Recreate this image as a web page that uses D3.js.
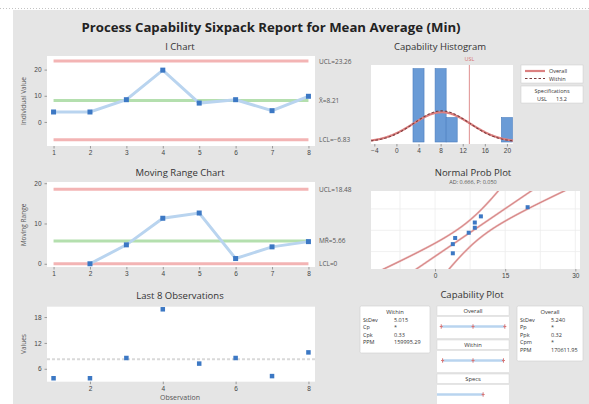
<!DOCTYPE html>
<html>
<head>
<meta charset="utf-8">
<script src="https://cdn.jsdelivr.net/npm/d3@7"></script>
<style>
  body { margin: 0; background: #fff; }
  svg { display: block; font-family: "Open Sans", "Noto Sans", sans-serif; }
  .tick text { font-size: 6.5px; fill: #444; }
  .tick line { stroke: #999; }
  .domain { stroke: none; }
</style>
</head>
<body>
<svg id="chart" width="589" height="404"></svg>
<script>
// ---- data ----
const observations = [1, 2, 3, 4, 5, 6, 7, 8];
const values = [3.8, 3.8, 8.5, 19.8, 7.2, 8.5, 4.3, 9.8];
const usl = 13.2;
const iTicks = [0, 10, 20];
const mrTicks = [0, 10, 20];
const lastTicks = [6, 12, 18];
const lastXTicks = [2, 4, 6, 8];
const histTicks = [-4, 0, 4, 8, 12, 16, 20];
const histThresholds = [-5, -3, -1, 1, 3, 5, 7, 9, 11, 13, 15, 17, 19, 21];
const probTicks = [0, 15, 30];
const probGrid = [-7.5, 0, 7.5, 15, 22.5, 30];
const probPctGrid = [0.1, 0.5, 0.9];
const adText = "AD: 0.666, P: 0.050";
const chartTitle = "Process Capability Sixpack Report for Mean Average (Min)";

// ---- statistics ----
const n = values.length;
const mean = d3.mean(values);
const movingRanges = values.slice(1).map((v, i) => Math.abs(v - values[i]));
const mrBar = d3.mean(movingRanges);
const sigmaW = mrBar / 1.128;
const sigmaO = d3.deviation(values);
const ucl = mean + 3 * sigmaW, lcl = mean - 3 * sigmaW;
const mrUcl = 3.267 * mrBar;

function erf(x) {
  const s = Math.sign(x); x = Math.abs(x);
  const t = 1 / (1 + 0.3275911 * x);
  const y = 1 - (((((1.061405429 * t - 1.453152027) * t) + 1.421413741) * t - 0.284496736) * t + 0.254829592) * t * Math.exp(-x * x);
  return s * y;
}
const Phi = z => 0.5 * (1 + erf(z / Math.SQRT2));
function probit(p) {
  let lo = -8, hi = 8;
  for (let k = 0; k < 80; k++) { const m = (lo + hi) / 2; if (Phi(m) < p) lo = m; else hi = m; }
  return (lo + hi) / 2;
}
const cpk = (usl - mean) / (3 * sigmaW);
const ppk = (usl - mean) / (3 * sigmaO);
const ppmW = (1 - Phi((usl - mean) / sigmaW)) * 1e6;
const ppmO = (1 - Phi((usl - mean) / sigmaO)) * 1e6;

// ---- styling ----
const C = {
  panel: "#e5e5e5", plot: "#ffffff", limit: "#f3b4b4", center: "#b4dfae",
  line: "#b9d4ef", point: "#3c78c4", bar: "#6a9bd6", barStroke: "#4a7cbd",
  red: "#d87474", text: "#333", sub: "#555"
};

const svg = d3.select("#chart");
svg.append("line").attr("x1", 0).attr("x2", 589).attr("y1", 8.5).attr("y2", 8.5)
  .attr("stroke", "#c4c4c4").attr("stroke-dasharray", "1,2");
svg.append("rect").attr("x", 13).attr("y", 10).attr("width", 576).attr("height", 394).attr("fill", C.panel);

svg.append("text").attr("x", 271).attr("y", 32).attr("text-anchor", "middle")
  .attr("font-size", 13.2).attr("font-weight", "bold").attr("fill", "#222").text(chartTitle);

function plotRect(x0, y0, x1, y1) {
  svg.append("rect").attr("x", x0).attr("y", y0).attr("width", x1 - x0).attr("height", y1 - y0)
    .attr("fill", C.plot);
}
function title(x, y, t, size) {
  svg.append("text").attr("x", x).attr("y", y).attr("text-anchor", "middle")
    .attr("font-size", size || 9.5).attr("fill", C.text).text(t);
}
function yTitle(x, y, t) {
  svg.append("text").attr("transform", `translate(${x},${y}) rotate(-90)`).attr("text-anchor", "middle")
    .attr("font-size", 6.5).attr("fill", C.sub).text(t);
}
function axes(xs, ys, xt, yt, y0, x0) {
  svg.append("g").attr("transform", `translate(0,${y0})`)
    .call(d3.axisBottom(xs).tickValues(xt).tickSize(2.5).tickPadding(2).tickFormat(d3.format("d")));
  if (yt) svg.append("g").attr("transform", `translate(${x0},0)`)
    .call(d3.axisLeft(ys).tickValues(yt).tickSize(2.5).tickPadding(3).tickFormat(d3.format("d")));
}
function hline(xs, ys, v, color, x0, x1) {
  svg.append("line").attr("x1", xs(x0)).attr("x2", xs(x1)).attr("y1", ys(v)).attr("y2", ys(v))
    .attr("stroke", color).attr("stroke-width", 3);
}
function sideLabel(x, y, t) {
  svg.append("text").attr("x", x).attr("y", y + 2.5).attr("font-size", 6.5).attr("fill", C.sub).text(t);
}
function squares(data, xs, ys, size) {
  svg.append("g").selectAll("rect").data(data).join("rect")
    .attr("x", d => xs(d[0]) - size / 2).attr("y", d => ys(d[1]) - size / 2)
    .attr("width", size).attr("height", size).attr("fill", C.point);
}
const f2 = d3.format(".2f"), f3 = d3.format(".3f");

// ---- I chart ----
const iX = d3.scaleLinear().domain([0.82, 8.18]).range([47, 315]);
const iY = d3.scaleLinear().domain([-9.2, 25.2]).range([146, 56]);
title(180, 50, "I Chart");
plotRect(47, 56, 315, 146);
axes(iX, iY, observations, iTicks, 146, 47);
hline(iX, iY, ucl, C.limit, 1, 8);
hline(iX, iY, lcl, C.limit, 1, 8);
hline(iX, iY, mean, C.center, 1, 8);
const iPts = observations.map((o, i) => [o, values[i]]);
svg.append("path").datum(iPts).attr("fill", "none").attr("stroke", C.line).attr("stroke-width", 3)
  .attr("d", d3.line().x(d => iX(d[0])).y(d => iY(d[1])));
squares(iPts, iX, iY, 5);
yTitle(26, 101, "Individual Value");
sideLabel(319, iY(ucl), "UCL=" + f2(ucl));
sideLabel(319, iY(mean), "X\u0304=" + f2(mean));
sideLabel(319, iY(lcl), "LCL=" + f2(lcl));

// ---- Moving range chart ----
const mrY = d3.scaleLinear().domain([-0.8, 20.3]).range([267, 182]);
title(180, 176, "Moving Range Chart");
plotRect(47, 182, 315, 267);
axes(iX, mrY, observations, mrTicks, 267, 47);
hline(iX, mrY, mrUcl, C.limit, 1, 8);
hline(iX, mrY, 0, C.limit, 1, 8);
hline(iX, mrY, mrBar, C.center, 1, 8);
const mrPts = movingRanges.map((r, i) => [observations[i + 1], r]);
svg.append("path").datum(mrPts).attr("fill", "none").attr("stroke", C.line).attr("stroke-width", 3)
  .attr("d", d3.line().x(d => iX(d[0])).y(d => mrY(d[1])));
squares(mrPts, iX, mrY, 5);
yTitle(26, 225, "Moving Range");
sideLabel(319, mrY(mrUcl), "UCL=" + f2(mrUcl));
sideLabel(319, mrY(mrBar), "MR\u0304=" + f2(mrBar));
sideLabel(319, mrY(0), "LCL=0");

// ---- Last 8 observations ----
const lY = d3.scaleLinear().domain([3.0, 20.4]).range([381.7, 306.7]);
title(180, 299, "Last 8 Observations");
plotRect(47, 306.7, 315, 381.7);
axes(iX, lY, lastXTicks, lastTicks, 381.7, 47);
svg.append("line").attr("x1", 47).attr("x2", 315).attr("y1", lY(mean)).attr("y2", lY(mean))
  .attr("stroke", "#d9d9d9").attr("stroke-width", 2).attr("stroke-dasharray", "3,2");
squares(iPts, iX, lY, 4.5);
yTitle(26, 344, "Values");
svg.append("text").attr("x", 180).attr("y", 400).attr("text-anchor", "middle")
  .attr("font-size", 7).attr("fill", C.sub).text("Observation");

// ---- Capability histogram ----
const hX = d3.scaleLinear().domain([-4.6, 21.1]).range([371, 513]);
const hY = d3.scaleLinear().domain([0, 3.15]).range([142, 65]);
title(440, 50, "Capability Histogram");
plotRect(371, 65, 513, 144);
svg.append("g").attr("transform", "translate(0,144)")
  .call(d3.axisBottom(hX).tickValues(histTicks).tickSize(2.5).tickPadding(2));
const bins = d3.bin().domain([-5, 21]).thresholds(histThresholds)(values);
svg.append("g").selectAll("rect").data(bins.filter(b => b.length)).join("rect")
  .attr("x", b => hX(b.x0)).attr("width", b => hX(b.x1) - hX(b.x0))
  .attr("y", b => hY(b.length)).attr("height", b => hY(0) - hY(b.length))
  .attr("fill", C.bar).attr("stroke", C.barStroke).attr("stroke-width", 0.6);
const binW = 2;
const curve = sd => d3.range(-4.6, 21.11, 0.1).map(x => [x, n * binW * Math.exp(-0.5 * ((x - mean) / sd) ** 2) / (sd * Math.sqrt(2 * Math.PI))]);
const hLine = d3.line().x(d => hX(d[0])).y(d => hY(d[1]));
svg.append("path").datum(curve(sigmaO)).attr("fill", "none").attr("stroke", "#dc8080").attr("stroke-width", 2.2).attr("d", hLine);
svg.append("path").datum(curve(sigmaW)).attr("fill", "none").attr("stroke", "#7a3c3c").attr("stroke-width", 1.1)
  .attr("stroke-dasharray", "2.5,2").attr("d", hLine);
svg.append("line").attr("x1", hX(usl)).attr("x2", hX(usl)).attr("y1", 65).attr("y2", 144)
  .attr("stroke", C.red).attr("stroke-width", 0.8);
svg.append("text").attr("x", hX(usl)).attr("y", 61).attr("text-anchor", "middle")
  .attr("font-size", 5.5).attr("fill", C.red).text("USL");

// legend
svg.append("rect").attr("x", 521).attr("y", 65).attr("width", 62).attr("height", 18).attr("fill", "#fff").attr("stroke", "#ccc").attr("stroke-width", 0.5);
svg.append("line").attr("x1", 525).attr("x2", 545).attr("y1", 71).attr("y2", 71).attr("stroke", "#dc8080").attr("stroke-width", 2.2);
svg.append("line").attr("x1", 525).attr("x2", 545).attr("y1", 78.5).attr("y2", 78.5).attr("stroke", "#7a3c3c").attr("stroke-width", 1.1).attr("stroke-dasharray", "2.5,2");
svg.append("text").attr("x", 549).attr("y", 73).attr("font-size", 5.5).attr("fill", C.text).text("Overall");
svg.append("text").attr("x", 549).attr("y", 80.5).attr("font-size", 5.5).attr("fill", C.text).text("Within");
svg.append("rect").attr("x", 521).attr("y", 86).attr("width", 62).attr("height", 17).attr("fill", "#fff").attr("stroke", "#ccc").attr("stroke-width", 0.5);
svg.append("text").attr("x", 552).attr("y", 93).attr("text-anchor", "middle").attr("font-size", 5.5).attr("fill", C.text).text("Specifications");
svg.append("text").attr("x", 537).attr("y", 100.5).attr("font-size", 5.5).attr("fill", C.text).text("USL");
svg.append("text").attr("x", 556).attr("y", 100.5).attr("font-size", 5.5).attr("fill", C.text).text(d3.format(".1f")(usl));

// ---- Normal probability plot ----
const pX = d3.scaleLinear().domain([-13.7, 31]).range([371, 580]);
const zMax = probit(0.99);
const pY = d3.scaleLinear().domain([-zMax, zMax]).range([269, 191.5]);
title(473, 176, "Normal Prob Plot");
svg.append("text").attr("x", 473).attr("y", 184).attr("text-anchor", "middle").attr("font-size", 5.5).attr("fill", C.sub).text(adText);
plotRect(371, 191, 580, 269);
svg.append("g").selectAll("line.v").data(probGrid).join("line")
  .attr("x1", d => pX(d)).attr("x2", d => pX(d)).attr("y1", 191).attr("y2", 269).attr("stroke", "#ececec").attr("stroke-width", 0.8);
svg.append("g").selectAll("line.h").data(probPctGrid).join("line")
  .attr("x1", 371).attr("x2", 580).attr("y1", d => pY(probit(d))).attr("y2", d => pY(probit(d))).attr("stroke", "#ececec").attr("stroke-width", 0.8);
svg.append("g").attr("transform", "translate(0,269)")
  .call(d3.axisBottom(pX).tickValues(probTicks).tickSize(2.5).tickPadding(2));
svg.append("clipPath").attr("id", "probclip").append("rect").attr("x", 371).attr("y", 191).attr("width", 209).attr("height", 78);
const zs = d3.range(-zMax - 0.3, zMax + 0.31, 0.02);
const band = k => zs.map(z => [mean + z * sigmaO + k * 1.96 * sigmaO * Math.sqrt(1 / n + z * z / (2 * n)), z]);
const pLine = d3.line().x(d => pX(d[0])).y(d => pY(d[1]));
const pg = svg.append("g").attr("clip-path", "url(#probclip)");
[-1, 0, 1].forEach(k => {
  pg.append("path").datum(band(k)).attr("fill", "none").attr("stroke", "#e8b0b0").attr("stroke-width", 2).attr("d", pLine);
  pg.append("path").datum(band(k)).attr("fill", "none").attr("stroke", "#c56262").attr("stroke-width", 0.6).attr("d", pLine);
});
const sorted = values.slice().sort((a, b) => a - b);
const probPts = sorted.map((v, i) => [v, probit((i + 1 - 0.3) / (n + 0.4))]);
squares(probPts, pX, pY, 4);

// ---- Capability plot ----
title(472, 298, "Capability Plot");
function statBox(x, y, w, h, head, rows) {
  svg.append("rect").attr("x", x).attr("y", y).attr("width", w).attr("height", h).attr("rx", 1.5)
    .attr("fill", "#fff").attr("stroke", "#cfcfcf").attr("stroke-width", 0.6);
  svg.append("text").attr("x", x + w / 2).attr("y", y + 7.5).attr("text-anchor", "middle").attr("font-size", 5.8).attr("fill", C.text).text(head);
  rows.forEach((r, i) => {
    svg.append("text").attr("x", x + 3).attr("y", y + 15.5 + i * 7.6).attr("font-size", 5.5).attr("fill", C.text).text(r[0]);
    svg.append("text").attr("x", x + 34).attr("y", y + 15.5 + i * 7.6).attr("font-size", 5.5).attr("fill", C.text).text(r[1]);
  });
}
statBox(360, 306, 70, 47, "Within", [["StDev", f3(sigmaW)], ["Cp", "*"], ["Cpk", f2(cpk)], ["PPM", f2(ppmW)]]);
statBox(517, 306, 66, 55, "Overall", [["StDev", f3(sigmaO)], ["Pp", "*"], ["Ppk", f2(ppk)], ["Cpm", "*"], ["PPM", f2(ppmO)]]);

const cX = d3.scaleLinear().domain([-9.6, 26]).range([437, 509]);
const sections = [
  { name: "Overall", y: 306, lo: mean - 3 * sigmaO, hi: mean + 3 * sigmaO, marks: [mean - 3 * sigmaO, mean, mean + 3 * sigmaO] },
  { name: "Within", y: 340, lo: mean - 3 * sigmaW, hi: mean + 3 * sigmaW, marks: [mean - 3 * sigmaW, mean, mean + 3 * sigmaW] },
  { name: "Specs", y: 374, lo: -9.6, hi: usl, marks: [usl] }
];
sections.forEach(s => {
  svg.append("rect").attr("x", 437).attr("y", s.y).attr("width", 72).attr("height", 9.5)
    .attr("fill", "#fff").attr("stroke", "#d4d4d4").attr("stroke-width", 0.5);
  svg.append("text").attr("x", 473).attr("y", s.y + 7).attr("text-anchor", "middle").attr("font-size", 5.8).attr("fill", C.text).text(s.name);
  svg.append("rect").attr("x", 437).attr("y", s.y + 11).attr("width", 72).attr("height", 21).attr("fill", "#fff");
  const ly = s.y + 20.5;
  svg.append("line").attr("x1", cX(s.lo)).attr("x2", cX(s.hi)).attr("y1", ly).attr("y2", ly)
    .attr("stroke", C.line).attr("stroke-width", 2.5);
  s.marks.forEach(m => {
    svg.append("line").attr("x1", cX(m)).attr("x2", cX(m)).attr("y1", ly - 2.2).attr("y2", ly + 2.2).attr("stroke", C.red).attr("stroke-width", 1);
    svg.append("line").attr("x1", cX(m) - 1.5).attr("x2", cX(m) + 1.5).attr("y1", ly).attr("y2", ly).attr("stroke", C.red).attr("stroke-width", 1);
  });
});
</script>
</body>
</html>
